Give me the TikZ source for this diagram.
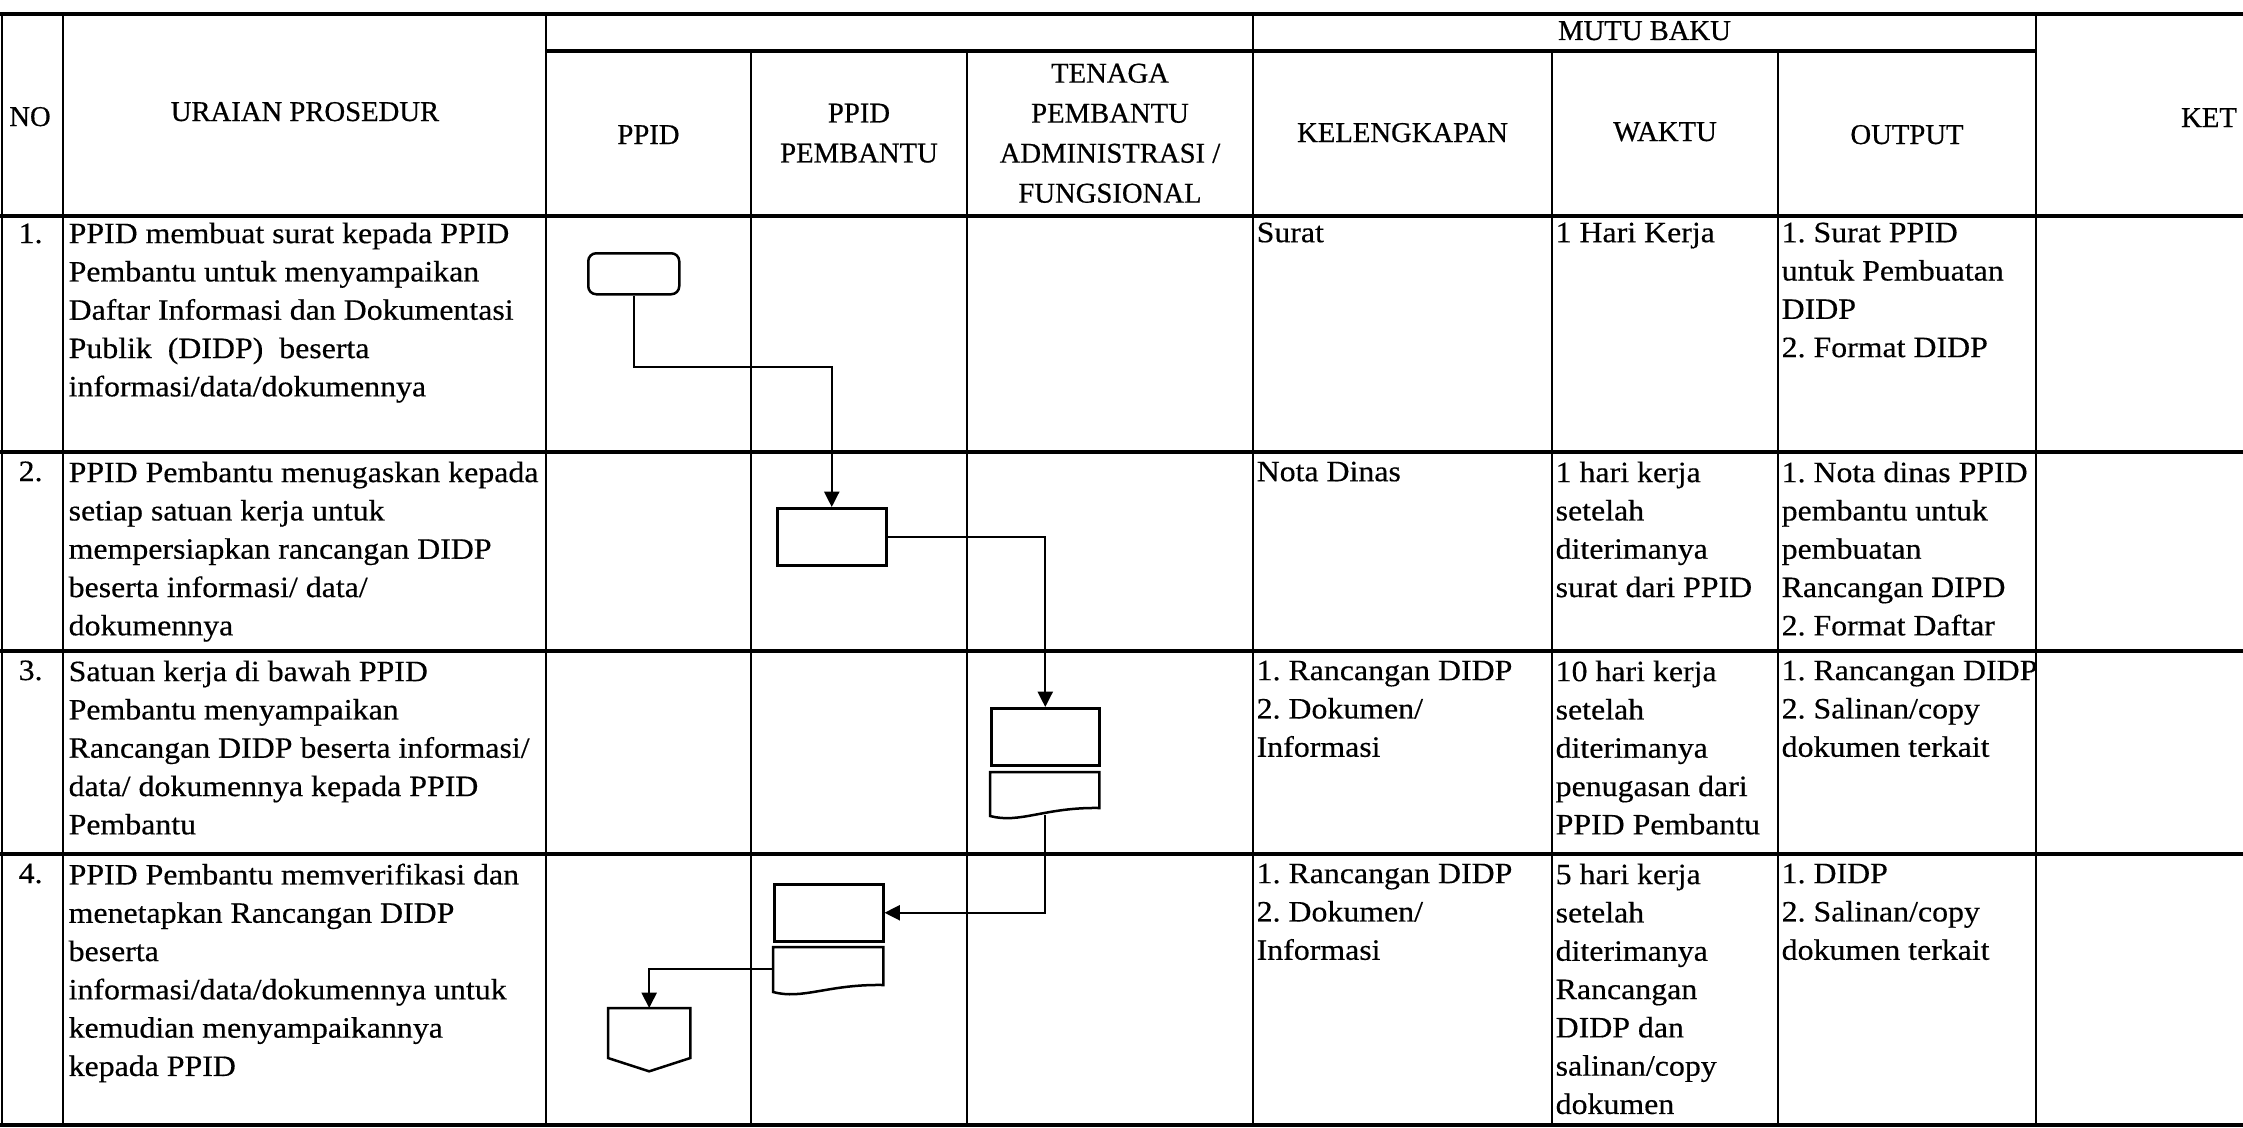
\documentclass[tikz,border=0pt]{standalone}
\usepackage{fontspec}
\setmainfont{Liberation Serif}[FakeStretch=1.08,FakeBold=0.4]
\newfontfamily\hdrfamily{Liberation Serif}[FakeBold=0.6]
\usetikzlibrary{arrows.meta,calc}
\newcommand\bodysize{\fontsize{8.85pt}{11.49pt}\selectfont\frenchspacing}
\newcommand\hdrsize{\hdrfamily\fontsize{8.6pt}{12pt}\selectfont}
\begin{document}
\begin{tikzpicture}[x=0.3pt,y=-0.3pt,
  hrule/.style={line width=1.2pt},
  vrule/.style={line width=0.8pt},
  hdr/.style={font=\hdrsize,inner sep=0pt,align=center},
  cell/.style={font=\bodysize,inner sep=0pt,align=left,anchor=north west},
  num/.style={font=\bodysize,inner sep=0pt,anchor=base west},
  procbox/.style={draw,line width=0.75pt,inner sep=0pt,anchor=north west},
  ghost/.style={inner sep=0pt,anchor=north west},
  docline/.style={line width=0.75pt,line join=miter},
  conn/.style={line width=0.65pt,-{Triangle[length=4.6pt,width=4.5pt]}}
]
\useasboundingbox (0,0) rectangle (2243,1127);
\fill[white] (0,0) rectangle (2243,1127);

% ---------- table rules ----------
\draw[hrule] (0,14) -- (2243,14);
\draw[hrule] (546,51) -- (2036,51);
\draw[hrule] (0,216) -- (2243,216);
\draw[hrule] (0,452) -- (2243,452);
\draw[hrule] (0,651) -- (2243,651);
\draw[hrule] (0,854) -- (2243,854);
\draw[hrule] (0,1125) -- (2243,1125);

\draw[vrule] (2,14) -- (2,1127);
\draw[vrule] (63,14) -- (63,1127);
\draw[vrule] (546,14) -- (546,1127);
\draw[vrule] (751,51) -- (751,1127);
\draw[vrule] (967,51) -- (967,1127);
\draw[vrule] (1253,14) -- (1253,1127);
\draw[vrule] (1552,51) -- (1552,1127);
\draw[vrule] (1778,51) -- (1778,1127);
\draw[vrule] (2036,14) -- (2036,1127);

% ---------- header ----------
\node[hdr,anchor=base] (hNo) at (30,126) {NO};
\node[hdr,anchor=base] (hUraian) at (305,121) {URAIAN PROSEDUR};
\node[hdr,anchor=base] (hPpid) at (648.5,144) {PPID};
\node[hdr,anchor=north] (hPemb) at (859,103) {PPID\\PEMBANTU};
\node[hdr,anchor=north] (hTenaga) at (1110,63) {TENAGA\\PEMBANTU\\ADMINISTRASI /\\FUNGSIONAL};
\node[hdr,anchor=base] (hMutu) at (1644.5,40) {MUTU BAKU};
\node[hdr,anchor=base] (hKel) at (1402.5,142) {KELENGKAPAN};
\node[hdr,anchor=base] (hWaktu) at (1665,141) {WAKTU};
\node[hdr,anchor=base] (hOutput) at (1907,144) {OUTPUT};
\node[hdr,anchor=base] (hKet) at (2209,127) {KET};

% ---------- row 1 ----------
\node[num] (no1) at (18,243) {1.};
\node[cell] (u1) at (68,222) {PPID membuat surat kepada PPID\\Pembantu untuk menyampaikan\\Daftar Informasi dan Dokumentasi\\Publik~~(DIDP)~~beserta\\informasi/data/dokumennya};
\node[cell] (k1) at (1256,222) {Surat};
\node[cell] (w1) at (1555,222) {1 Hari Kerja};
\node[cell] (o1) at (1781,222) {1. Surat PPID\\untuk Pembuatan\\DIDP\\2. Format DIDP};

% ---------- row 2 ----------
\node[num] (no2) at (18,481) {2.};
\node[cell] (u2) at (68,461) {PPID Pembantu menugaskan kepada\\setiap satuan kerja untuk\\mempersiapkan rancangan DIDP\\beserta informasi/ data/\\dokumennya};
\node[cell] (k2) at (1256,461) {Nota Dinas};
\node[cell] (w2) at (1555,461) {1 hari kerja\\setelah\\diterimanya\\surat dari PPID};
\node[cell] (o2) at (1781,461) {1. Nota dinas PPID\\pembantu untuk\\pembuatan\\Rancangan DIPD\\2. Format Daftar};

% ---------- row 3 ----------
\node[num] (no3) at (18,680) {3.};
\node[cell] (u3) at (68,660) {Satuan kerja di bawah PPID\\Pembantu menyampaikan\\Rancangan DIDP beserta informasi/\\data/ dokumennya kepada PPID\\Pembantu};
\node[cell] (k3) at (1256,660) {1. Rancangan DIDP\\2. Dokumen/\\Informasi};
\node[cell] (w3) at (1555,660) {10 hari kerja\\setelah\\diterimanya\\penugasan dari\\PPID Pembantu};
\node[cell] (o3) at (1781,660) {1. Rancangan DIDP\\2. Salinan/copy\\dokumen terkait};

% ---------- row 4 ----------
\node[num] (no4) at (18,883) {4.};
\node[cell] (u4) at (68,863) {PPID Pembantu memverifikasi dan\\menetapkan Rancangan DIDP\\beserta\\informasi/data/dokumennya untuk\\kemudian menyampaikannya\\kepada PPID};
\node[cell] (k4) at (1256,863) {1. Rancangan DIDP\\2. Dokumen/\\Informasi};
\node[cell] (w4) at (1555,863) {5 hari kerja\\setelah\\diterimanya\\Rancangan\\DIDP dan\\salinan/copy\\dokumen};
\node[cell] (o4) at (1781,863) {1. DIDP\\2. Salinan/copy\\dokumen terkait};

% ---------- flowchart shapes ----------
\node[procbox,rounded corners=2.4pt,minimum width=27.3pt,minimum height=12.3pt] (n1) at (587,252) {};
\node[procbox,minimum width=32.7pt,minimum height=17.1pt] (n2) at (776,507) {};
\node[procbox,minimum width=32.4pt,minimum height=17.1pt] (n3) at (990,707) {};
\node[ghost,minimum width=32.4pt,minimum height=12.6pt] (d3) at (990,772) {};
\node[procbox,minimum width=32.7pt,minimum height=17.1pt] (n4) at (773,883) {};
\node[ghost,minimum width=32.7pt,minimum height=12.6pt] (d4) at (773,947) {};
\node[ghost,minimum width=24.3pt,minimum height=18.6pt] (n5) at (608,1008) {};

\draw[docline] (d3.north west) -- (d3.north east) -- ($(d3.north east)+(0,36)$)
  .. controls ($(d3.north west)+(55,35)$) and ($(d3.north west)+(30,52)$) .. ($(d3.north west)+(0,44)$) -- cycle;
\draw[docline] (d4.north west) -- (d4.north east) -- ($(d4.north east)+(0,38)$)
  .. controls ($(d4.north west)+(55,37)$) and ($(d4.north west)+(30,53)$) .. ($(d4.north west)+(0,45)$) -- cycle;
\draw[docline] (n5.north west) -- (n5.north east) -- ($(n5.north east)+(0,50)$) -- (n5.south) -- ($(n5.north west)+(0,50)$) -- cycle;

% ---------- connectors ----------
\coordinate (bend1) at (0,367);
\draw[conn] (n1.south) -- (n1.south |- bend1) -| (n2.north);
\draw[conn] (n2.east) -| (n3.north);
\draw[conn] (d3.south) |- (n4.east);
\draw[conn] (d4.west) -| (n5.north);
\end{tikzpicture}
\end{document}
